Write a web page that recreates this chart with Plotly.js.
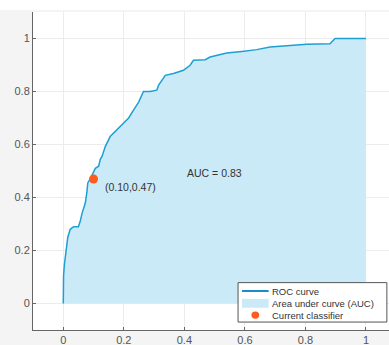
<!DOCTYPE html>
<html>
<head>
<meta charset="utf-8">
<script src="https://cdn.plot.ly/plotly-3.0.1.min.js"></script>
<style>html,body{margin:0;padding:0;background:#fff;}#chart{width:389px;height:345px;}</style>
</head>
<body>
<div id="chart"></div>
<script>
// False positive rate (x) and true positive rate (y) of the ROC curve
var fpr = [0, 0.001, 0.004, 0.010, 0.015, 0.023, 0.034, 0.050, 0.056, 0.062, 0.067, 0.073, 0.078, 0.081, 0.089, 0.100, 0.106, 0.117, 0.122, 0.128, 0.133, 0.139, 0.155, 0.177, 0.199, 0.216, 0.232, 0.249, 0.265, 0.287, 0.309, 0.315, 0.337, 0.364, 0.397, 0.419, 0.430, 0.469, 0.485, 0.507, 0.540, 0.590, 0.639, 0.683, 0.738, 0.804, 0.881, 0.898, 1.0];
var tpr = [0, 0.106, 0.150, 0.220, 0.250, 0.280, 0.290, 0.290, 0.310, 0.340, 0.355, 0.380, 0.420, 0.455, 0.470, 0.500, 0.510, 0.518, 0.543, 0.555, 0.570, 0.593, 0.630, 0.655, 0.680, 0.700, 0.730, 0.760, 0.800, 0.800, 0.805, 0.824, 0.861, 0.868, 0.880, 0.899, 0.918, 0.920, 0.930, 0.936, 0.945, 0.951, 0.958, 0.968, 0.972, 0.978, 0.980, 1.0, 1.0];
var classifierX = [0.10];
var classifierY = [0.47];
var aucValue = 0.83;
var seriesNames = ["ROC curve", "Area under curve (AUC)", "Current classifier"];
var xTicks = [0, 0.2, 0.4, 0.6, 0.8, 1];
var yTicks = [0, 0.2, 0.4, 0.6, 0.8, 1];

var lineColor = "#1e9fd4";
var legendLineColor = "#1a8ccc";
var fillColor = "#caeaf8";
var dotColor = "#ff5a1f";
var font = "Liberation Sans, Arial, sans-serif";

var traces = [
  {x: fpr, y: tpr, type: "scatter", mode: "none", fill: "tozeroy", fillcolor: fillColor,
   name: seriesNames[1], hoverinfo: "skip"},
  {x: fpr, y: tpr, type: "scatter", mode: "lines", name: seriesNames[0],
   line: {color: lineColor, width: 1.5}},
  {x: classifierX, y: classifierY, type: "scatter", mode: "markers", name: seriesNames[2],
   marker: {color: dotColor, size: 9}}
];

// compact MATLAB-style legend drawn with shapes + annotations (paper coordinates)
var lgX0 = 0.576, lgX1 = 0.994, lgY0 = 0.025, lgY1 = 0.149;
var rowY = [0.1226, 0.084, 0.047];
var symX0 = 0.587, symX1 = 0.662, symXc = 0.6245, txtX = 0.667;

var shapes = [
  {type: "rect", xref: "paper", yref: "paper", x0: -0.1, x1: 1.01, y0: 1.006, y1: 1.04,
   fillcolor: "#ffffff", line: {width: 0}, layer: "below"},
  {type: "rect", xref: "paper", yref: "paper", x0: lgX0, x1: lgX1, y0: lgY0, y1: lgY1,
   fillcolor: "#ffffff", line: {color: "#555", width: 1}, layer: "above"},
  {type: "line", xref: "paper", yref: "paper", x0: symX0, x1: symX1, y0: rowY[0], y1: rowY[0],
   line: {color: legendLineColor, width: 2}, layer: "above"},
  {type: "rect", xref: "paper", yref: "paper", x0: symX0, x1: symX1, y0: rowY[1] - 0.014, y1: rowY[1] + 0.014,
   fillcolor: fillColor, line: {width: 0}, layer: "above"},
  {type: "circle", xref: "paper", yref: "paper", x0: symXc - 0.011, x1: symXc + 0.011, y0: rowY[2] - 0.0115, y1: rowY[2] + 0.0115,
   fillcolor: dotColor, line: {width: 0}, layer: "above"}
];

var annotations = [
  {x: 0.50, y: 0.494, xref: "x", yref: "y", text: "AUC = " + aucValue.toFixed(2),
   showarrow: false, font: {family: font, size: 10.5, color: "#333"}},
  {x: classifierX[0] + 0.03, y: classifierY[0] - 0.032, xref: "x", yref: "y", xanchor: "left",
   text: "(" + classifierX[0].toFixed(2) + "," + classifierY[0].toFixed(2) + ")",
   showarrow: false, font: {family: font, size: 10.5, color: "#333"}}
];
for (var i = 0; i < seriesNames.length; i++) {
  annotations.push({x: txtX, y: rowY[i], xref: "paper", yref: "paper", xanchor: "left", yanchor: "middle",
    text: seriesNames[i], showarrow: false, font: {family: font, size: 9.5, color: "#333"}});
}

var layout = {
  width: 389, height: 345,
  margin: {l: 33, r: 0, t: 12, b: 15},
  paper_bgcolor: "#f4f4f4",
  plot_bgcolor: "#ffffff",
  showlegend: false,
  font: {family: font, size: 11, color: "#4a4a4a"},
  xaxis: {
    range: [-0.1, 1.076], tickvals: xTicks, ticktext: xTicks.map(String), automargin: false,
    showgrid: true, gridcolor: "#ececec", zeroline: false,
    showline: true, linecolor: "#666", linewidth: 1,
    ticks: "inside", ticklen: 3, tickcolor: "#666",
    tickfont: {size: 11, color: "#555"}
  },
  yaxis: {
    range: [-0.1, 1.1], tickvals: yTicks, ticktext: yTicks.map(String), automargin: false,
    showgrid: true, gridcolor: "#ececec", zeroline: false,
    showline: true, linecolor: "#666", linewidth: 1,
    ticks: "inside", ticklen: 3, tickcolor: "#666",
    tickfont: {size: 11, color: "#555"}
  },
  annotations: annotations,
  shapes: shapes
};

Plotly.newPlot("chart", traces, layout, {displayModeBar: false, staticPlot: true});
</script>
</body>
</html>
